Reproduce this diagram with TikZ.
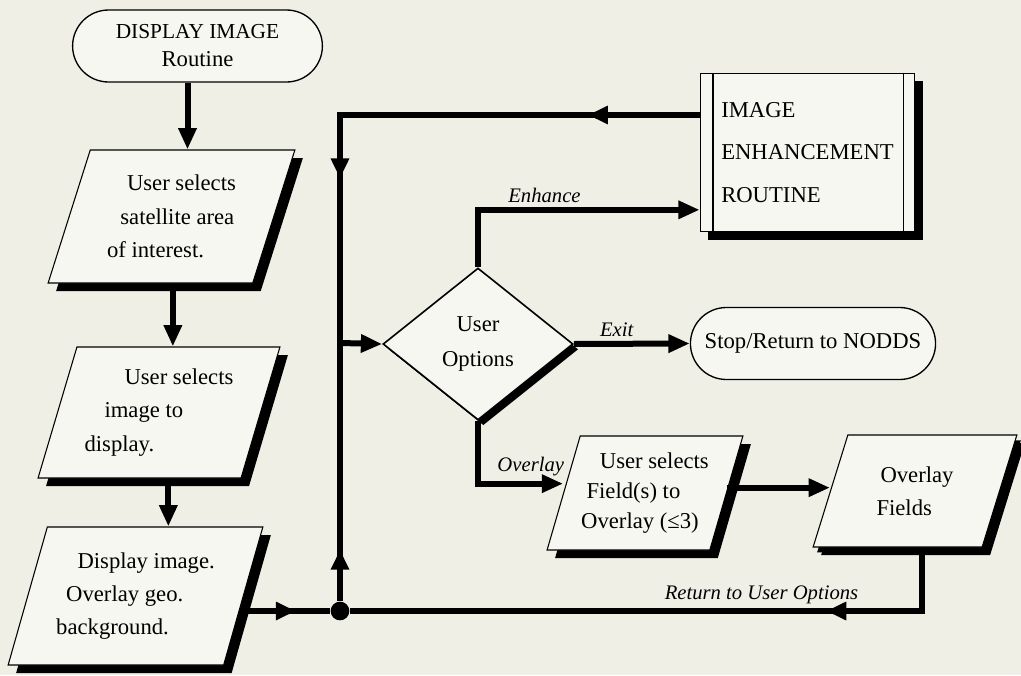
\documentclass[tikz,border=0pt]{standalone}
\usepackage{fontspec}
\setmainfont{Liberation Serif}
\usetikzlibrary{arrows.meta,shapes.geometric,shapes.misc,shadows,decorations.markings}
\definecolor{papel}{RGB}{239,239,230}
\definecolor{caja}{RGB}{247,247,241}

\begin{document}
\begin{tikzpicture}[x=0.75pt,y=-0.75pt,
term/.style={draw,line width=1pt,rounded rectangle,fill=caja,minimum width=#1,minimum height=54pt,align=center,font=\fontsize{17}{21}\selectfont},
io/.style={draw,line width=0.8pt,trapezium,trapezium left angle=68,trapezium right angle=112,trapezium stretches=true,fill=caja,align=left,inner sep=0pt,font=\fontsize{17}{25}\selectfont,drop shadow={shadow xshift=6pt,shadow yshift=-6pt,fill=black,opacity=1}},
proc/.style={draw,line width=0.8pt,rectangle,fill=caja,minimum width=161pt,minimum height=119pt,align=left,font=\fontsize{17}{32}\selectfont,drop shadow={shadow xshift=6pt,shadow yshift=-6pt,fill=black,opacity=1}},
dec/.style={draw,line width=1.2pt,diamond,fill=caja,minimum width=142.5pt,minimum height=114pt,inner sep=0pt,align=center,font=\fontsize{17}{26}\selectfont,drop shadow={shadow xshift=4pt,shadow yshift=-4pt,fill=black,opacity=1}},
lab/.style={font=\fontsize{15.5}{18}\selectfont\itshape},
line/.style={line width=4.5pt},
arr/.style={-{Triangle[length=16pt,width=13pt]},line width=4.5pt},
midarr/.style={postaction={decorate},decoration={markings,mark=at position #1 with {\arrow{Triangle[length=15pt,width=13pt]}}}}
]
\fill[papel] (0,0) rectangle (1021,675);

\node[term=194pt] (start) at (197.5,46) {{\fontsize{16}{21}\selectfont DISPLAY IMAGE}\\Routine};
\node[io,minimum width=185.25pt,minimum height=99.75pt] (p1) at (171.5,216.5) {\hspace{15pt}User selects\\\hspace{10pt}satellite area\\of interest.};
\node[io,minimum width=181.5pt,minimum height=98.25pt] (p2) at (159,412.5) {\hspace{30pt}User selects\\\hspace{15pt}image to\\display.};
\node[io,minimum width=191.25pt,minimum height=103.5pt] (p3) at (135.5,596) {\hspace{16pt}Display image.\\\hspace{7.5pt}Overlay geo.\\background.};

\node[proc] (enh) at (807.5,152.5) {IMAGE\\ENHANCEMENT\\ROUTINE};
\draw[line width=0.8pt] ([xshift=10pt]enh.north west) -- ([xshift=10pt]enh.south west);
\draw[line width=0.8pt] ([xshift=-9pt]enh.north east) -- ([xshift=-9pt]enh.south east);

\node[dec] (opt) at (478,344) {User\\Options};
\node[term=190.5pt] (stop) at (813,343.5) {Stop/Return to NODDS};
\node[io,minimum width=147pt,minimum height=85.5pt,font=\fontsize{17}{22.5}\selectfont] (p4) at (645,493) {\hspace{14pt}User selects\\\hspace{4pt}Field(s) to\\Overlay (≤3)};
\node[io,minimum width=153pt,minimum height=84pt,drop shadow={shadow xshift=3pt,shadow yshift=-4pt,fill=black,opacity=1}] (p5) at (915,491) {\hspace{3pt}Overlay\\Fields};

\node[circle,fill,inner sep=0pt,minimum size=14pt] (dot) at (340,611) {};
\coordinate (corner) at (340,115);
\coordinate (branch) at (340,343);

% left column
\draw[arr] ([xshift=-7.5pt]start.south) -- ([xshift=-7.5pt]start.south |- p1.north);
\draw[arr] ([xshift=1pt]p1.south) -- ([xshift=1pt]p1.south |- p2.north);
\draw[arr] ([xshift=7pt]p2.south) -- ([xshift=7pt]p2.south |- p3.north);
\draw[line,midarr=0.6] (p3.east |- dot) -- (dot);

% loop back to the options
\draw[line,postaction={decorate},decoration={markings,
  mark=at position 0.19 with {\arrow{Triangle[length=15pt,width=13pt]}},
  mark=at position 0.72 with {\arrow{Triangle[length=15pt,width=13pt]}}}]
  (enh.west |- corner) -- (corner) -- (branch);
\draw[line,midarr=0.2] (dot) -- (branch);
\draw[arr] (branch) -- (opt.west);

% options
\draw[arr] (opt.north) |- node[lab,above,pos=0.65]{Enhance} ([yshift=-43pt]enh.west);
\draw[arr] (opt.east) -- node[lab,above,pos=0.37]{Exit} (stop.west);
\draw[arr] (opt.south) |- node[lab,above,pos=0.81]{Overlay} ([yshift=7pt]p4.west);
\draw[arr] ([yshift=4pt]p4.east) -- ([yshift=4pt]p4.east -| p5.west);
\draw[line,midarr=0.25] ([xshift=5pt]p5.south) |- node[lab,above,pos=0.64]{Return to User Options} (dot);
\end{tikzpicture}
\end{document}
